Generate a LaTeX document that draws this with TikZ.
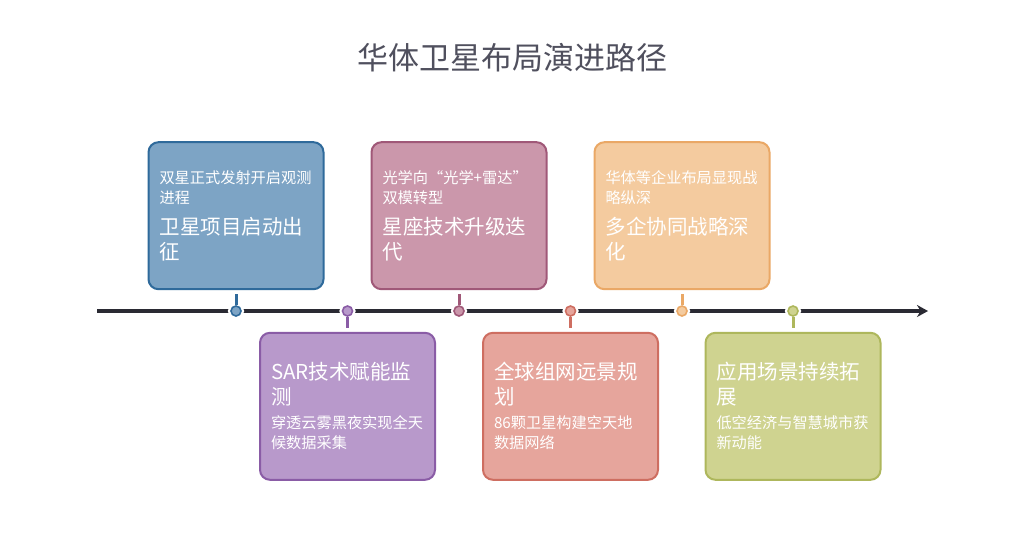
\documentclass[tikz,border=0pt]{standalone}
\usepackage{fontspec}
\setmainfont{Noto Sans CJK SC}
\usepackage{tikz}
\usetikzlibrary{positioning,arrows.meta}
\definecolor{titlegray}{HTML}{50505E}
\definecolor{axisdark}{HTML}{2A2A33}
\definecolor{launchLine}{HTML}{2F6A9B}\definecolor{launchFill}{HTML}{7DA4C5}
\definecolor{sarLine}{HTML}{8A5CA6}\definecolor{sarFill}{HTML}{B899CB}
\definecolor{opticLine}{HTML}{A05878}\definecolor{opticFill}{HTML}{CB97AB}
\definecolor{globeLine}{HTML}{CE6E61}\definecolor{globeFill}{HTML}{E6A59C}
\definecolor{multiLine}{HTML}{EAA866}\definecolor{multiFill}{HTML}{F4CB9F}
\definecolor{appLine}{HTML}{AEB75C}\definecolor{appFill}{HTML}{CFD390}
\newcommand{\subtxt}[1]{{\fontsize{15.2}{20}\selectfont #1\par}}
\newcommand{\headtxt}[1]{{\fontsize{20.5}{25}\selectfont #1\par}}
\tikzset{
  pathbox/.style={draw=#1Line, fill=#1Fill, line width=2pt, rounded corners=10pt,
    text=white, text width=153pt, inner xsep=11pt, minimum height=147pt, align=left},
  marker/.style={circle, inner sep=0pt, minimum size=10pt, draw=#1Line, fill=#1Fill,
    line width=1.6pt, preaction={draw=white, line width=6pt}},
  stem/.style={draw=#1Line, line width=3pt},
  timeline/.style={draw=axisdark, line width=3.5pt, -{Stealth[length=11pt,width=12pt]}}
}
\begin{document}
\begin{tikzpicture}[x=1pt,y=-1pt]
  \useasboundingbox[fill=white] (0,0) rectangle (1024,550);
  \node[text=titlegray, font=\fontsize{31}{36}\selectfont] (title) at (512,58) {华体卫星布局演进路径};
  % axis
  \coordinate (axisstart) at (97,311);
  \coordinate (axisend) at (928,311);
  \draw[timeline] (axisstart) -- (axisend);
  % markers on the axis
  \node[marker=launch] (m1) at (236,311) {};
  \node[marker=sar] (m2) at (347.5,311) {};
  \node[marker=optic] (m3) at (459,311) {};
  \node[marker=globe] (m4) at (570.5,311) {};
  \node[marker=multi] (m5) at (682,311) {};
  \node[marker=app] (m6) at (793,311) {};
  % stages above
  \node[pathbox=launch, above=15pt of m1] (b1) {\subtxt{双星正式发射开启观测\\进程}\vspace{6pt}\headtxt{卫星项目启动出\\征}};
  \node[pathbox=optic, above=15pt of m3] (b3) {\subtxt{光学向“光学+雷达”\\双模转型}\vspace{6pt}\headtxt{星座技术升级迭\\代}};
  \node[pathbox=multi, above=15pt of m5] (b5) {\subtxt{华体等企业布局显现战\\略纵深}\vspace{6pt}\headtxt{多企协同战略深\\化}};
  % stages below
  \node[pathbox=sar, below=15pt of m2] (b2) {\headtxt{SAR技术赋能监\\测}\vspace{4pt}\subtxt{穿透云雾黑夜实现全天\\候数据采集}};
  \node[pathbox=globe, below=15pt of m4] (b4) {\headtxt{全球组网远景规\\划}\vspace{4pt}\subtxt{86颗卫星构建空天地\\数据网络}};
  \node[pathbox=app, below=15pt of m6] (b6) {\headtxt{应用场景持续拓\\展}\vspace{4pt}\subtxt{低空经济与智慧城市获\\新动能}};
  % stems
  \draw[stem=launch, shorten <=4pt] (b1.south) -- (m1.north);
  \draw[stem=optic, shorten <=4pt] (b3.south) -- (m3.north);
  \draw[stem=multi, shorten <=4pt] (b5.south) -- (m5.north);
  \draw[stem=sar, shorten <=4pt] (b2.north) -- (m2.south);
  \draw[stem=globe, shorten <=4pt] (b4.north) -- (m4.south);
  \draw[stem=app, shorten <=4pt] (b6.north) -- (m6.south);
\end{tikzpicture}
\end{document}
